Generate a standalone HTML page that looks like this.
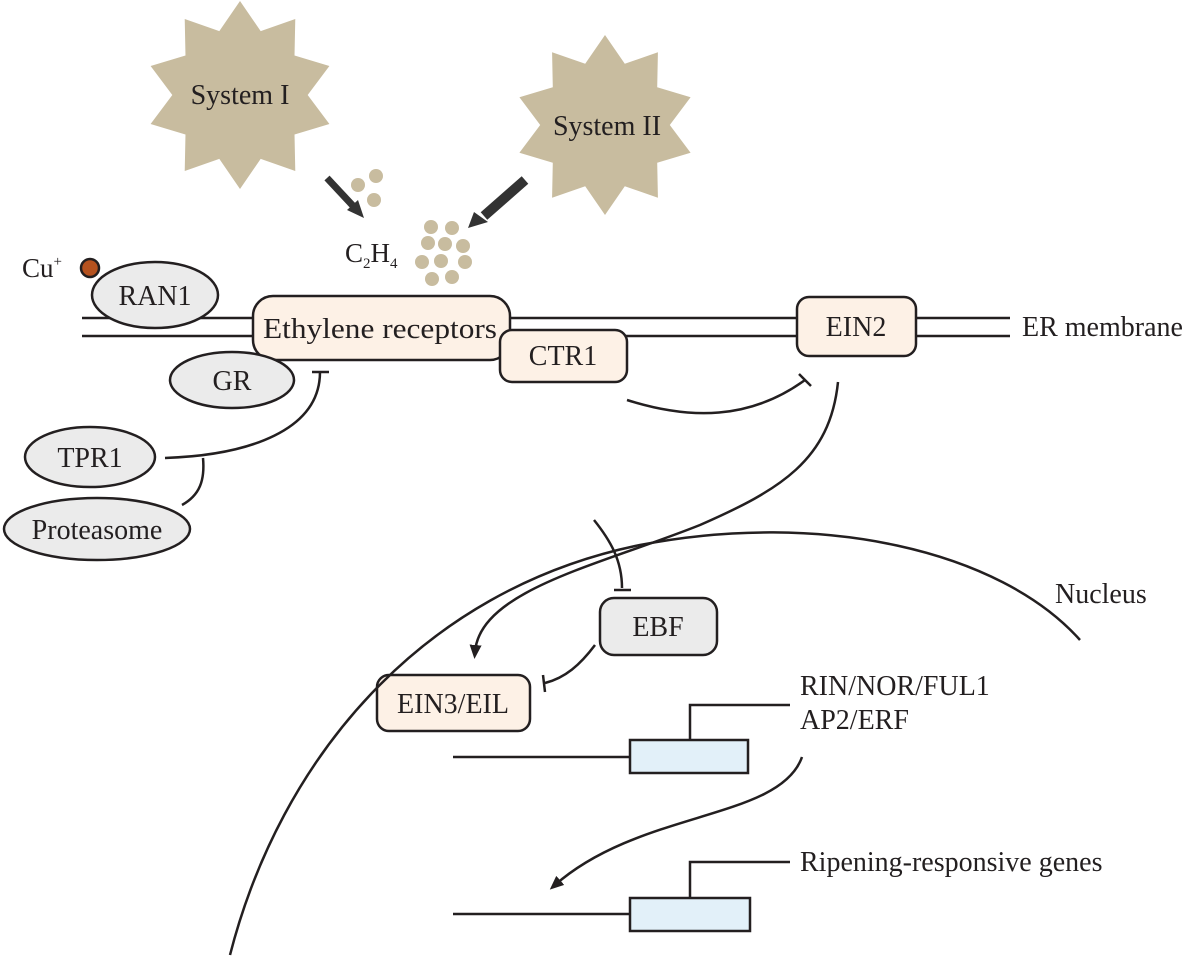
<!DOCTYPE html>
<html><head><meta charset="utf-8"><style>
html,body{margin:0;padding:0;background:#fff}
svg{display:block}
text{font-family:"Liberation Serif",serif;fill:#231f20}
</style></head><body>
<svg width="1200" height="958" viewBox="0 0 1200 958" xmlns="http://www.w3.org/2000/svg">
<defs>
<polygon id="star" points="0,-1 0.22,-0.68 0.588,-0.809 0.58,-0.42 0.951,-0.309 0.72,0 0.951,0.309 0.58,0.42 0.588,0.809 0.22,0.68 0,1 -0.22,0.68 -0.588,0.809 -0.58,0.42 -0.951,0.309 -0.72,0 -0.951,-0.309 -0.58,-0.42 -0.588,-0.809 -0.22,-0.68"/>
<marker id="ah" markerWidth="14" markerHeight="12" refX="7" refY="6" orient="auto" markerUnits="userSpaceOnUse"><path d="M0,0 L14,6 L0,12 z" fill="#231f20"/></marker>
</defs>
<g fill="#c8bc9f">
<use href="#star" transform="translate(240,95) scale(94)"/>
<use href="#star" transform="translate(605,125) scale(90)"/>
</g>
<text x="240" y="104" font-size="28" text-anchor="middle">System I</text>
<text x="607" y="135" font-size="28" text-anchor="middle">System II</text>
<line x1="327" y1="178" x2="355" y2="208" stroke="#333" stroke-width="7"/>
<polygon points="347,210 364,218 358,200" fill="#333"/>
<line x1="525" y1="180" x2="484" y2="216" stroke="#333" stroke-width="10"/>
<polygon points="474,212 468,228 488,222" fill="#333"/>
<g fill="#c8bc9f">
<circle cx="358" cy="185" r="7"/><circle cx="376" cy="176" r="7"/><circle cx="374" cy="200" r="7"/>
<circle cx="431" cy="227" r="7"/><circle cx="452" cy="228" r="7"/><circle cx="428" cy="243" r="7"/><circle cx="445" cy="244" r="7"/><circle cx="463" cy="246" r="7"/>
<circle cx="422" cy="262" r="7"/><circle cx="441" cy="261" r="7"/><circle cx="465" cy="262" r="7"/><circle cx="432" cy="279" r="7"/><circle cx="452" cy="277" r="7"/>
</g>
<text x="345" y="262" font-size="27">C<tspan font-size="15" dy="6">2</tspan><tspan dy="-6">H</tspan><tspan font-size="15" dy="6">4</tspan></text>
<text x="22" y="277" font-size="27">Cu<tspan font-size="15" dy="-11">+</tspan></text>
<g stroke="#231f20" stroke-width="2.5">
<line x1="82" y1="318" x2="1010" y2="318"/>
<line x1="82" y1="336" x2="1010" y2="336"/>
</g>
<g stroke="#231f20" stroke-width="2.5">
<ellipse cx="155" cy="295" rx="63" ry="33" fill="#ebebeb"/>
<circle cx="90" cy="268" r="9" fill="#b5521f"/>
<rect x="253" y="296" width="257" height="64" rx="20" fill="#fdf1e6"/>
<rect x="500" y="330" width="127" height="52" rx="12" fill="#fdf1e6"/>
<rect x="797" y="297" width="119" height="59" rx="12" fill="#fdf1e6"/>
<ellipse cx="232" cy="380" rx="62" ry="28" fill="#ebebeb"/>
<ellipse cx="90" cy="457" rx="65" ry="30" fill="#ebebeb"/>
<ellipse cx="97" cy="529" rx="93" ry="31" fill="#ebebeb"/>
<rect x="600" y="598" width="117" height="57" rx="14" fill="#ebebeb"/>
<rect x="377" y="675" width="153" height="56" rx="12" fill="#fdf1e6"/>
<rect x="630" y="740" width="118" height="33" fill="#e2f0f9"/>
<rect x="630" y="898" width="120" height="33" fill="#e2f0f9"/>
</g>
<g font-size="28">
<text x="155" y="305" text-anchor="middle">RAN1</text>
<text x="380" y="338" text-anchor="middle" textLength="234" lengthAdjust="spacingAndGlyphs">Ethylene receptors</text>
<text x="563" y="365" text-anchor="middle">CTR1</text>
<text x="856" y="336" text-anchor="middle">EIN2</text>
<text x="1022" y="336">ER membrane</text>
<text x="232" y="390" text-anchor="middle">GR</text>
<text x="90" y="467" text-anchor="middle">TPR1</text>
<text x="97" y="539" text-anchor="middle">Proteasome</text>
<text x="658" y="636" text-anchor="middle">EBF</text>
<text x="453" y="713" text-anchor="middle">EIN3/EIL</text>
<text x="1055" y="603">Nucleus</text>
<text x="800" y="695">RIN/NOR/FUL1</text>
<text x="800" y="729">AP2/ERF</text>
<text x="800" y="871">Ripening-responsive genes</text>
</g>
<g fill="none" stroke="#231f20" stroke-width="2.5">
<path d="M230,955 C280,760 420,590 640,545 C820,510 1000,550 1080,640"/>
<path d="M165,458 C250,455 320,430 320,372"/>
<line x1="312" y1="372" x2="329" y2="372"/>
<path d="M203,458 C205,480 200,495 182,505"/>
<path d="M627,400 C690,420 750,420 805,380"/>
<line x1="799" y1="374" x2="811" y2="386"/>
<path d="M838,382 C830,460 780,490 700,525 C600,565 480,590 475,652" marker-end="url(#ah)"/>
<path d="M594,520 C610,540 622,560 622,588"/>
<line x1="614" y1="590" x2="631" y2="590"/>
<path d="M595,645 C580,665 565,678 545,683"/>
<line x1="543" y1="675" x2="545" y2="692"/>
<line x1="453" y1="757" x2="630" y2="757"/>
<polyline points="690,740 690,705 790,705"/>
<line x1="453" y1="914" x2="630" y2="914"/>
<polyline points="690,898 690,862 790,862"/>
<path d="M802,757 C780,820 640,810 555,885" marker-end="url(#ah)"/>
</g>
</svg>
</body></html>
